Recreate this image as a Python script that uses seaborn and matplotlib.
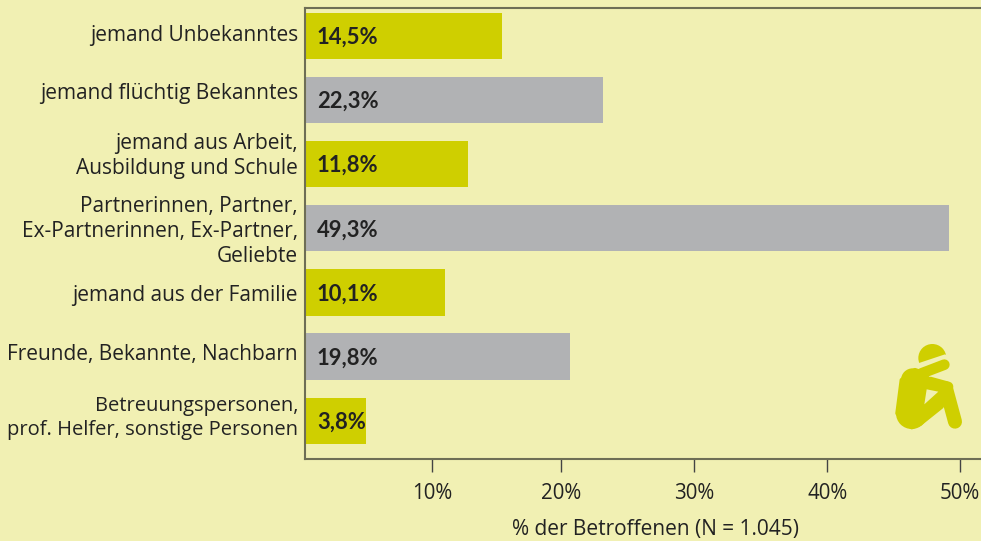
import matplotlib
matplotlib.use('Agg')
import matplotlib.pyplot as plt
from matplotlib.patches import Circle, Polygon
import pandas as pd
import seaborn as sns

categories = [
    'jemand Unbekanntes',
    'jemand flüchtig Bekanntes',
    'jemand aus Arbeit,\nAusbildung und Schule',
    'Partnerinnen, Partner,\nEx-Partnerinnen, Ex-Partner,\nGeliebte',
    'jemand aus der Familie',
    'Freunde, Bekannte, Nachbarn',
    'Betreuungspersonen,\nprof. Helfer, sonstige Personen',
]
# bar lengths; the printed labels differ slightly
bar_values = [15.3, 22.9, 12.7, 49.2, 10.95, 20.4, 4.95]
value_labels = ['14,5%', '22,3%', '11,8%', '49,3%', '10,1%', '19,8%', '3,8%']
# the ticks are not evenly spaced in the picture
tick_values = [10, 19.77, 29.86, 39.95, 50]
tick_labels = ['10%', '20%', '30%', '40%', '50%']

BG = '#f1f0b3'
GREEN = '#cfcf00'
GREY = '#b1b2b4'
DARK = '#222222'

W, H = 981, 541
sns.set_theme(style='white')
plt.rcParams['font.family'] = ['Open Sans', 'DejaVu Sans']

fig = plt.figure(figsize=(W / 100, H / 100), dpi=100, facecolor=BG)
ax = fig.add_axes([305 / W, 1 - 459 / H, (W - 305) / W, (459 - 8) / H], facecolor=BG)

df = pd.DataFrame({'kategorie': categories, 'wert': bar_values})
colors = [GREEN if i % 2 == 0 else GREY for i in range(len(categories))]
sns.barplot(data=df, y='kategorie', x='wert', hue='kategorie', palette=colors,
            legend=False, width=0.72, saturation=1, linewidth=0, ax=ax)

ax.set_xlim(0.33, 51.6)
ax.set_ylim(6.6, -0.44)
ax.set_xticks(tick_values, tick_labels)
ax.tick_params(axis='x', length=9.5, width=1, color='#444444', pad=7.5, labelsize=14.8, labelcolor=DARK, bottom=True)
ax.tick_params(axis='y', length=0, labelleft=False)
ax.set_ylabel('')
ax.set_xlabel('% der Betroffenen (N = 1.045)', fontsize=15, color=DARK)
ax.xaxis.set_label_coords((655 - 305) / (W - 305), -(530 - 459) / (459 - 8))
ax.xaxis.label.set_va('center')

for s in ['left', 'top', 'bottom']:
    ax.spines[s].set_color('#6e6e55')
    ax.spines[s].set_linewidth(1.5)
ax.spines['right'].set_visible(False)

# category labels sit a little off the bar centres, shift in px (up is negative)
label_shift = [-1, -7, -8, 3, 3, -2, -3]
label_size = [15, 15, 15, 15, 15, 15, 14.5]
for i, cat in enumerate(categories):
    ax.annotate(cat, xy=(0, i), xycoords=ax.get_yaxis_transform(), xytext=(-5, -label_shift[i] * 0.72),
                textcoords='offset points', va='center', ha='right', ma='right', linespacing=1.26,
                fontsize=label_size[i], color=DARK, annotation_clip=False)

for i, lab in enumerate(value_labels):
    ax.annotate(lab, xy=(0.33, i), xytext=(8.6, -1), textcoords='offset points', va='center', ha='left',
                fontsize=15.8, fontweight='bold', family='Lato', color=DARK)

# small figure icon, overlay axes in pixel coordinates
ov = fig.add_axes([0, 0, 1, 1], facecolor='none')
ov.set_xlim(0, W)
ov.set_ylim(H, 0)
ov.axis('off')


def z(x, y):
    return (860 + x / 3, 320 + y / 3)


def stroke(a, b, width, color=GREEN):
    pa, pb = z(*a), z(*b)
    ov.plot([pa[0], pb[0]], [pa[1], pb[1]], lw=width / 3 * 0.72, color=color, solid_capstyle='round')


def shape(pts, color=GREEN, lw=3):
    ov.add_patch(Polygon([z(*p) for p in pts], facecolor=color, edgecolor=color, lw=lw, joinstyle='round'))


ov.add_patch(Circle(z(217, 114), 14, color=GREEN, lw=0))
shape([(165, 133), (255, 103), (285, 120), (180, 175)], color=BG, lw=0)
ov.add_patch(Circle(z(155, 280), 47 / 3, color=GREEN, lw=0))
ov.add_patch(Circle(z(158, 180), 35 / 3, color=GREEN, lw=0))
shape([(165, 150), (125, 180), (112, 280), (155, 322), (180, 312),
       (245, 260), (270, 205), (205, 180), (195, 160)])
stroke((258, 205), (285, 305), 42)
stroke((210, 185), (265, 200), 30)
stroke((185, 160), (253, 134), 32)
shape([(200, 208), (235, 215), (193, 253)], color=BG, lw=0)

fig.savefig('out.png', dpi=100, facecolor=BG)
